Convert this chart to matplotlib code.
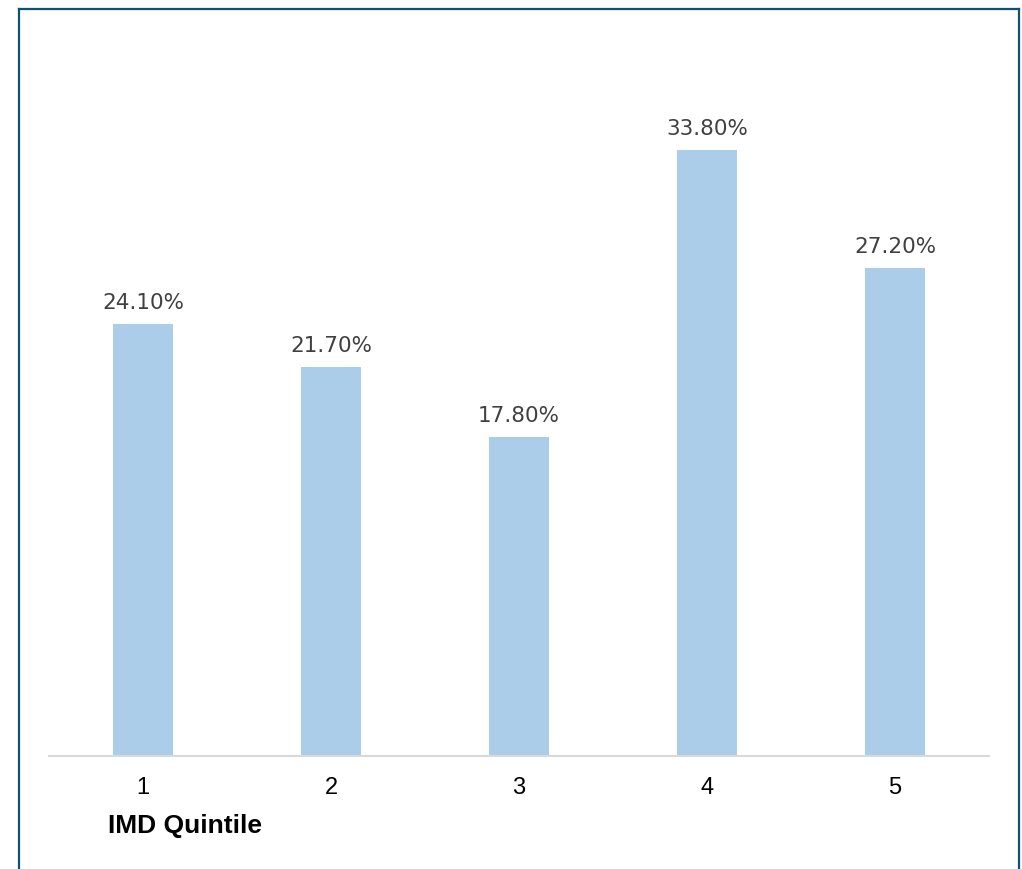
import matplotlib.pyplot as plt
from matplotlib import font_manager

quintiles = ["1", "2", "3", "4", "5"]
share = [24.1, 21.7, 17.8, 33.8, 27.2]
value_labels = ["24.10%", "21.70%", "17.80%", "33.80%", "27.20%"]

# pick the regular-width Liberation Sans files (not the Narrow cut)
reg_file, bold_file = None, None
for f in font_manager.findSystemFonts():
    name = f.split("/")[-1]
    if name == "LiberationSans-Regular.ttf":
        reg_file = f
    elif name == "LiberationSans-Bold.ttf":
        bold_file = f
tick_font = font_manager.FontProperties(fname=reg_file, size=17) if reg_file else \
    font_manager.FontProperties(family="Liberation Sans", size=17)
title_font = font_manager.FontProperties(fname=bold_file, size=19) if bold_file else \
    font_manager.FontProperties(family="Liberation Sans", weight="bold", size=19)

W, H = 1022, 869
fig = plt.figure(figsize=(W / 100, H / 100), dpi=100)

# plot area in pixel coordinates of the reference
left, right, base, top = 49, 989, 756, 39
ax = fig.add_axes([left / W, 1 - base / H, (right - left) / W, (base - top) / H])

x = range(len(quintiles))
ax.bar(x, share, width=0.32, color="#abcde9", zorder=2)
ax.set_xlim(-0.5, 4.5)
ax.set_ylim(0, 40)

for xi, v, lab in zip(x, share, value_labels):
    ax.annotate(lab, (xi, v), xytext=(0, 8), textcoords="offset points",
                ha="center", va="bottom", fontsize=15.5, color="#404040",
                family="DejaVu Sans")

for s in ["top", "right", "left"]:
    ax.spines[s].set_visible(False)
ax.spines["bottom"].set_color("#d9d9d9")
ax.spines["bottom"].set_linewidth(1.5)
ax.set_yticks([])
ax.set_xticks(list(x))
ax.set_xticklabels(quintiles, fontproperties=tick_font, color="#000000")
ax.tick_params(axis="x", length=0, pad=15)

fig.text(108 / W, 1 - 833 / H, "IMD Quintile", fontproperties=title_font,
         ha="left", va="baseline")

# outer frame: left, top, right edges
frame_col = "#0b5275"
fig.add_artist(plt.Line2D([19 / W, 19 / W], [0, 1 - 8.5 / H], color=frame_col, lw=1.6))
fig.add_artist(plt.Line2D([19 / W, 1019 / W], [1 - 8.5 / H, 1 - 8.5 / H], color=frame_col, lw=1.6))
fig.add_artist(plt.Line2D([1019 / W, 1019 / W], [0, 1 - 8.5 / H], color=frame_col, lw=1.6))

fig.savefig("out.png", dpi=100)
